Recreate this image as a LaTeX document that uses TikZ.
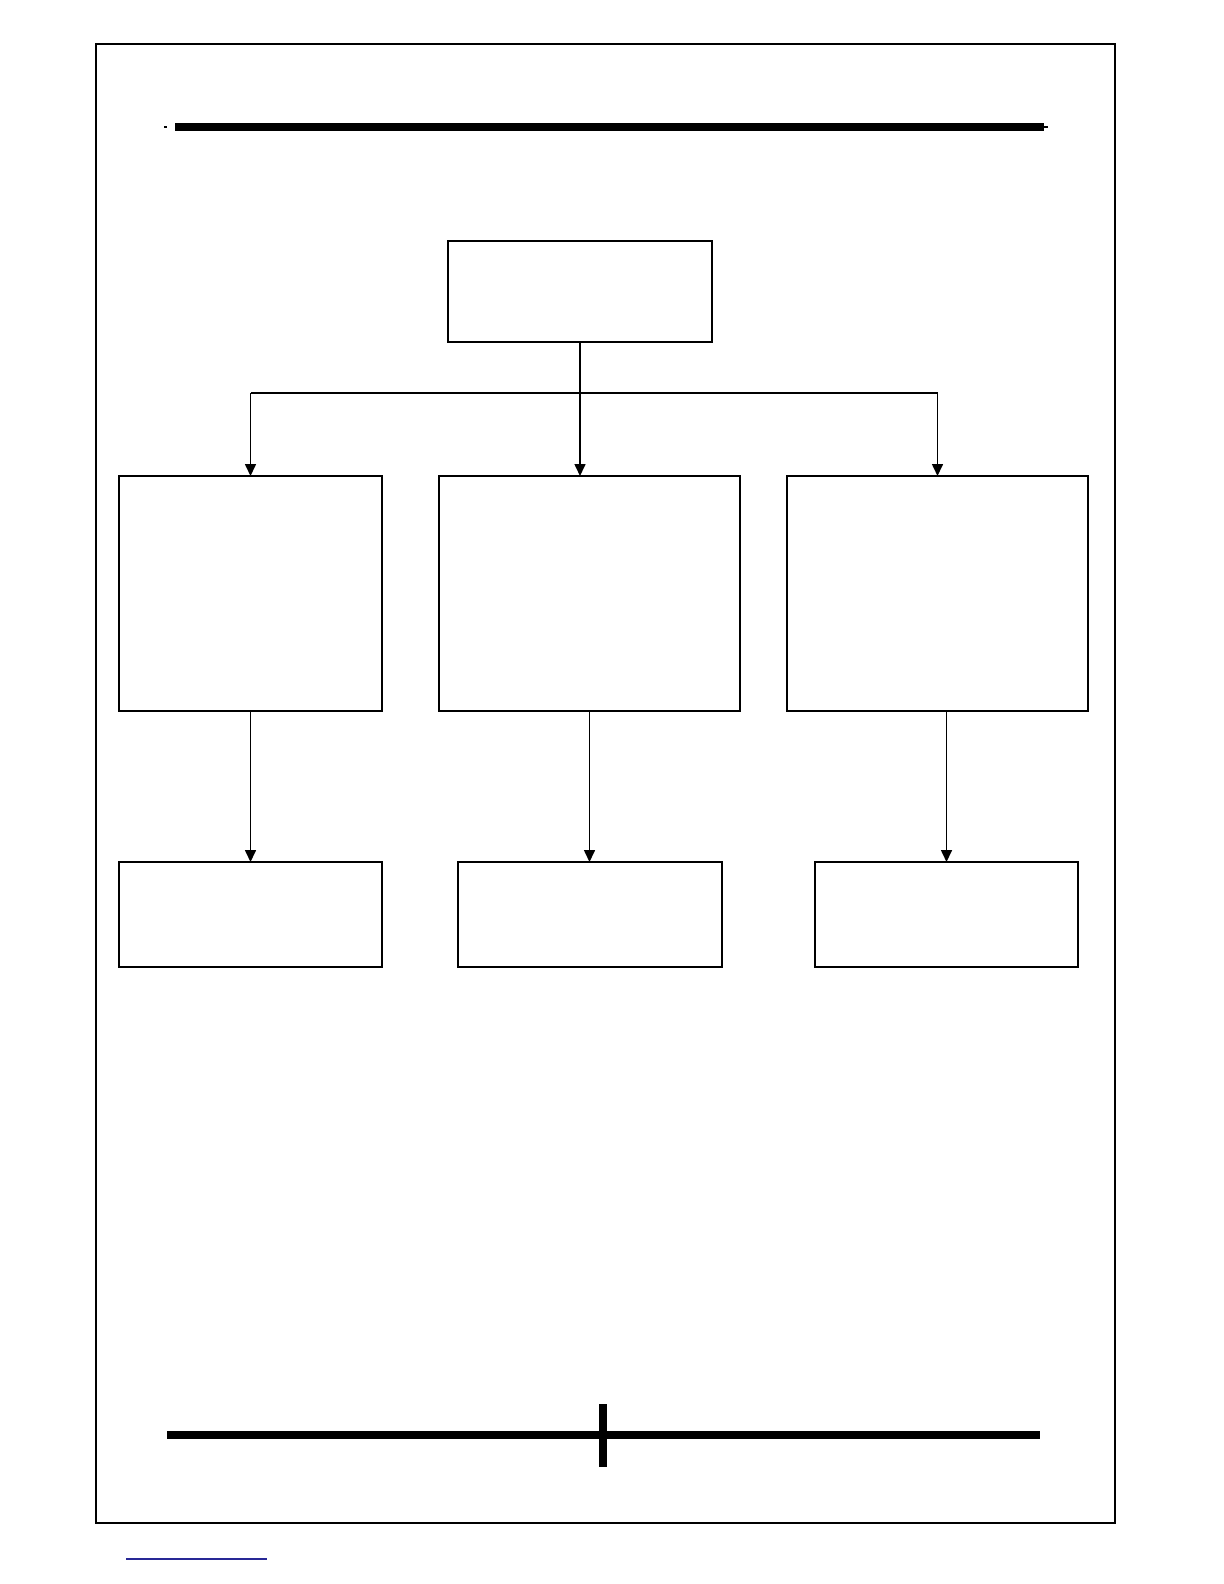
\documentclass[tikz,border=0pt]{standalone}
\usetikzlibrary{arrows.meta}
\definecolor{linkblue}{RGB}{40,40,150}
\begin{document}
\begin{tikzpicture}[x=0.5pt,y=-0.5pt,
  box/.style={draw=black,line width=1pt,fill=white,inner sep=0pt,outer sep=0pt},
  conn/.style={draw=black,line width=0.8pt},
  arr/.style={conn,-{Triangle[width=5.5pt,length=6pt]}},
  heavy/.style={draw=black,line width=3.6pt}]
\fill[white] (0,0) rectangle (1224,1584);
% page frame
\draw[line width=0.6pt] (96,44) rectangle (1115,1523);
% header rule
\coordinate (hl) at (175,127);
\coordinate (hr) at (1044,127);
\draw[heavy] (hl) -- (hr);
\draw[line width=1.2pt] (164,127) -- (166.5,127);
\draw[line width=1pt] (1044,127) -- (1048,127);
% boxes
\node[box,minimum width=132pt,minimum height=50.5pt] (top) at (580,291.5) {};
\node[box,minimum width=131.5pt,minimum height=117.5pt] (ml) at (250.5,593.5) {};
\node[box,minimum width=150.5pt,minimum height=117.5pt] (mc) at (589.5,593.5) {};
\node[box,minimum width=150.5pt,minimum height=117.5pt] (mr) at (937.5,593.5) {};
\node[box,minimum width=131.5pt,minimum height=52.5pt] (bl) at (250.5,914.5) {};
\node[box,minimum width=132pt,minimum height=52.5pt] (bc) at (589.5,914.5) {};
\node[box,minimum width=131.5pt,minimum height=52.5pt] (br) at (946.5,914.5) {};
% connectors
\coordinate (jL) at (250.5,393);
\coordinate (jR) at (937.5,393);
\draw[conn] (jL) -- (jR);
\draw[arr] (top.south) -- (top.south |- mc.north);
\draw[arr] (jL) -- (jL |- ml.north);
\draw[arr] (jR) -- (jR |- mr.north);
\draw[arr] (ml.south) -- (bl.north);
\draw[arr] (mc.south) -- (bc.north);
\draw[arr] (br.north |- mr.south) -- (br.north);
% footer rule
\coordinate (fl) at (167,1435);
\coordinate (fr) at (1040,1435);
\coordinate (ft) at (603,1404);
\coordinate (fb) at (603,1467);
\draw[heavy] (fl) -- (fr);
\draw[heavy] (ft) -- (fb);
% blue line
\coordinate (bl1) at (126,1559);
\coordinate (bl2) at (267,1559);
\draw[linkblue,line width=0.6pt] (bl1) -- (bl2);
\pgfresetboundingbox
\useasboundingbox (0,0) rectangle (1224,1584);
\end{tikzpicture}
\end{document}
